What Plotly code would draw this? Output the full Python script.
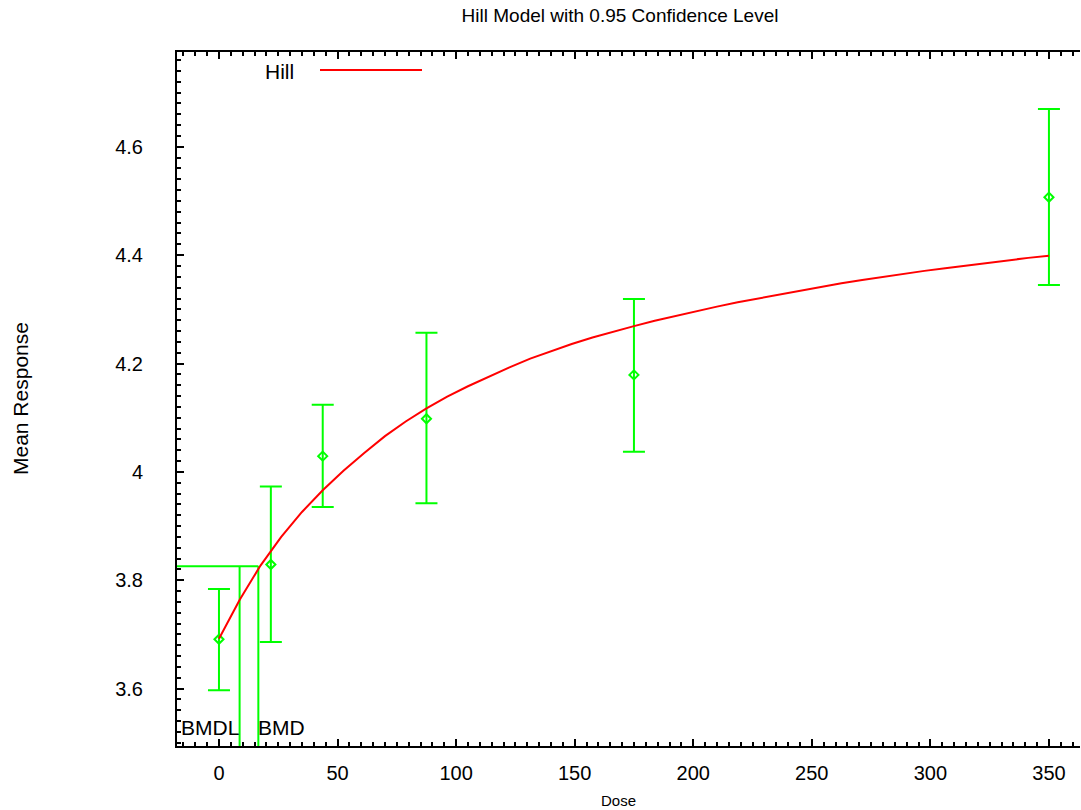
import plotly.graph_objects as go

# Observed data
doses = [0, 21.875, 43.75, 87.5, 175, 350]
means = [3.691, 3.829, 4.029, 4.098, 4.179, 4.507]
upper = [3.784, 3.973, 4.124, 4.257, 4.319, 4.670]
lower = [3.597, 3.686, 3.935, 3.942, 4.037, 4.345]

# Fitted Hill curve
curve_dose = [0, 8.75, 17.5, 26.25, 35, 43.75, 52.5, 61.25, 70, 78.75, 87.5,
              96.25, 105, 113.75, 122.5, 131.25, 140, 148.75, 157.5, 166.25, 175,
              183.75, 192.5, 201.25, 210, 218.75, 227.5, 236.25, 245, 253.75, 262.5,
              271.25, 280, 288.75, 297.5, 306.25, 315, 323.75, 332.5, 341.25, 350]
curve_resp = [3.692, 3.764, 3.827, 3.880, 3.926, 3.966, 4.002, 4.035, 4.066, 4.093, 4.117,
              4.139, 4.158, 4.176, 4.193, 4.209, 4.223, 4.236, 4.248, 4.259, 4.269,
              4.279, 4.288, 4.297, 4.305, 4.313, 4.320, 4.328, 4.335, 4.341, 4.348,
              4.354, 4.360, 4.365, 4.371, 4.376, 4.381, 4.386, 4.390, 4.395, 4.399]

bmdl = 8.7
bmd = 16.6
bmr = 3.826

x_range = [-17.7, 363.1]
y_range = [3.494, 4.775]
y_ticks = [3.6, 3.8, 4.0, 4.2, 4.4, 4.6]
y_ticktext = ["3.6", "3.8", "4", "4.2", "4.4", "4.6"]
x_ticks = [0, 50, 100, 150, 200, 250, 300, 350]

GREEN = "#00FF00"
RED = "#FF0000"
FONT = "Liberation Sans, Arial, sans-serif"

fig = go.Figure()

# BMD lines
fig.add_trace(go.Scatter(x=[x_range[0], bmd], y=[bmr, bmr], mode="lines",
                         line=dict(color=GREEN, width=2), showlegend=False, hoverinfo="skip"))
fig.add_trace(go.Scatter(x=[bmdl, bmdl], y=[y_range[0], bmr], mode="lines",
                         line=dict(color=GREEN, width=2), showlegend=False, hoverinfo="skip"))
fig.add_trace(go.Scatter(x=[bmd, bmd], y=[y_range[0], bmr], mode="lines",
                         line=dict(color=GREEN, width=2), showlegend=False, hoverinfo="skip"))

# Data with error bars
fig.add_trace(go.Scatter(
    x=doses, y=means, mode="markers",
    marker=dict(symbol="diamond-open", size=7, color=GREEN, line=dict(color=GREEN, width=2)),
    error_y=dict(type="data", symmetric=False,
                 array=[u - m for u, m in zip(upper, means)],
                 arrayminus=[m - l for m, l in zip(means, lower)],
                 color=GREEN, thickness=2, width=11),
    showlegend=False))

# Hill curve
fig.add_trace(go.Scatter(x=curve_dose, y=curve_resp, mode="lines",
                         line=dict(color=RED, width=2), showlegend=False))

axis_common = dict(showline=True, linecolor="black", linewidth=2,
                   ticks="inside", tickcolor="black", tickwidth=1.5, ticklen=7,
                   showgrid=False, zeroline=False,
                   tickfont=dict(family=FONT, size=20, color="black"))

fig.update_xaxes(range=x_range, tickvals=x_ticks, ticklabelstandoff=8, mirror="ticks",
                 minor=dict(ticks="inside", dtick=5, tick0=0, ticklen=4, tickcolor="black", tickwidth=1.5),
                 **axis_common)
fig.update_yaxes(range=y_range, tickvals=y_ticks, ticktext=y_ticktext, ticklabelstandoff=28, mirror=False,
                 minor=dict(ticks="inside", dtick=0.02, tick0=3.6, ticklen=4, tickcolor="black", tickwidth=1.5),
                 **axis_common)

annotations = [
    dict(text="BMDL", x=bmdl, y=3.529, xref="x", yref="y", xanchor="right", yanchor="middle",
         showarrow=False, xshift=1, font=dict(family=FONT, size=21, color="black")),
    dict(text="BMD", x=bmd, y=3.529, xref="x", yref="y", xanchor="left", yanchor="middle",
         showarrow=False, xshift=-2, font=dict(family=FONT, size=21, color="black")),
    dict(text="Hill", x=(279 - 177) / 903, y=1 - (72 - 52) / 694, xref="paper", yref="paper",
         xanchor="center", yanchor="middle", showarrow=False,
         font=dict(family=FONT, size=21, color="black")),
    dict(text="Mean Response", x=0, y=0.5, xref="paper", yref="paper", xshift=-157,
         xanchor="center", yanchor="middle", textangle=-90, showarrow=False,
         font=dict(family=FONT, size=21, color="black")),
    dict(text="Dose", x=(618 - 177) / 903, y=0, xref="paper", yref="paper", yshift=-54,
         xanchor="center", yanchor="middle", showarrow=False,
         font=dict(family=FONT, size=15, color="black")),
]

shapes = [
    dict(type="line", xref="paper", yref="paper",
         x0=(320 - 177) / 903, x1=(422 - 177) / 903,
         y0=1 - (70 - 52) / 694, y1=1 - (70 - 52) / 694,
         line=dict(color=RED, width=2)),
]

fig.update_layout(
    width=1081, height=810,
    margin=dict(l=177, r=1, t=52, b=64),
    paper_bgcolor="white", plot_bgcolor="white",
    title=dict(text="Hill Model with 0.95 Confidence Level", x=620 / 1081,
               xanchor="center", y=1 - 15 / 810, yanchor="middle",
               font=dict(family=FONT, size=19, color="black")),
    annotations=annotations, shapes=shapes, showlegend=False,
)

fig.write_html("out.html", config={"displayModeBar": False},
               post_script="document.body.style.margin='0';document.body.style.overflow='hidden';")
